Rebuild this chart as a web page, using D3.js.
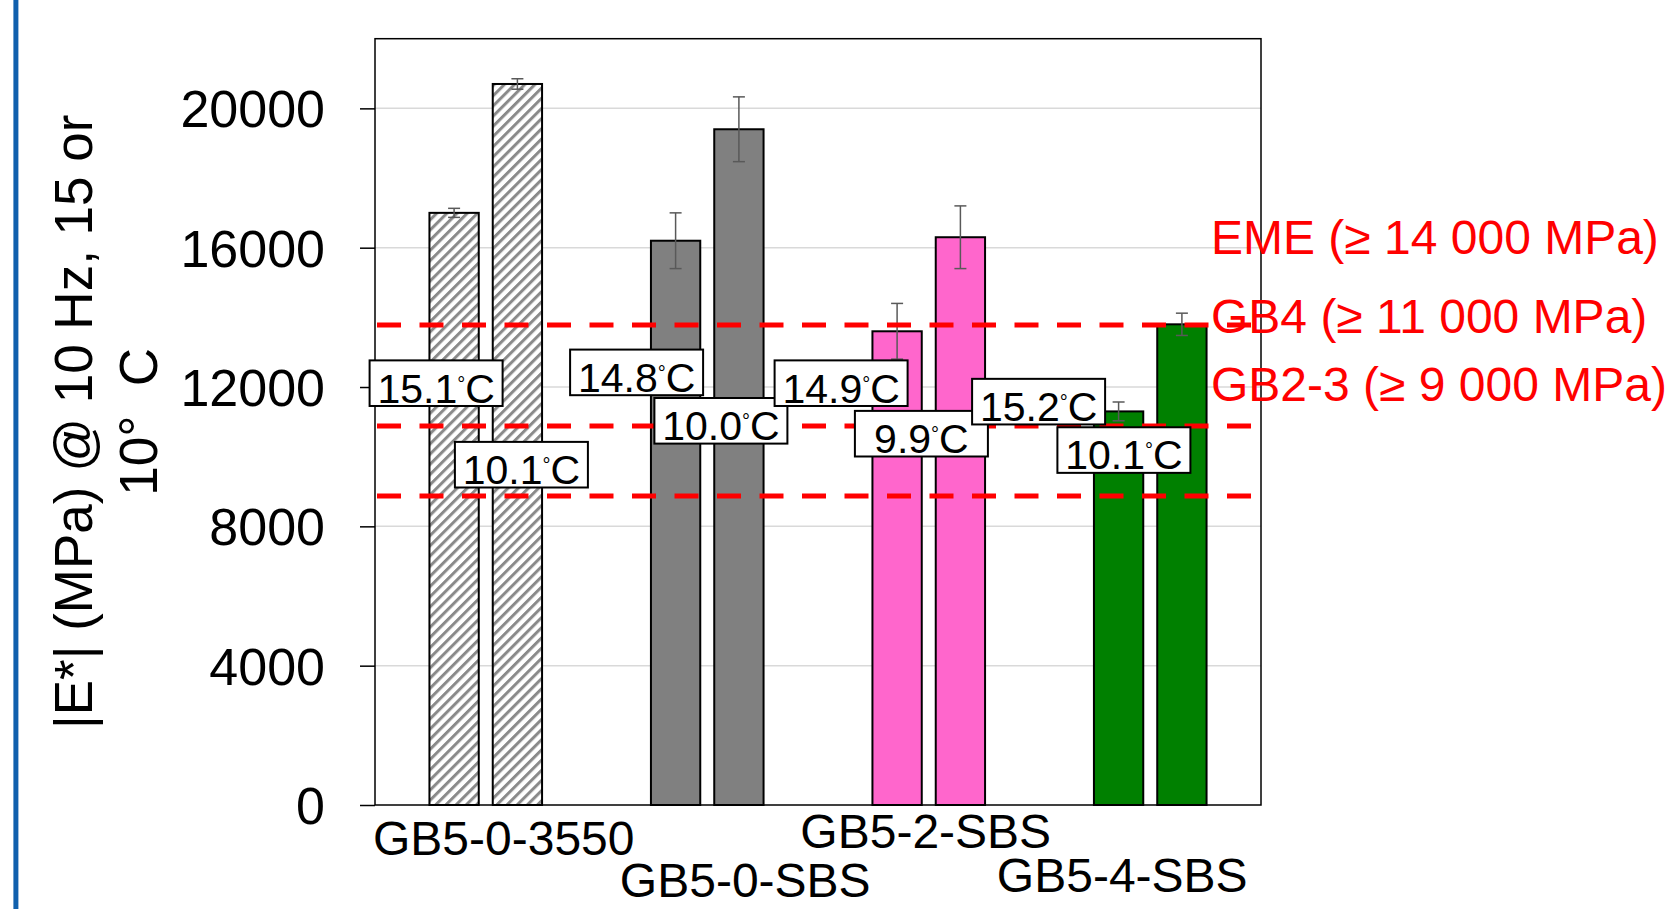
<!DOCTYPE html>
<html>
<head>
<meta charset="utf-8">
<script src="https://cdn.jsdelivr.net/npm/d3@7"></script>
<style>
  html, body { margin: 0; padding: 0; background: #fff; }
  svg { display: block; font-family: "Liberation Sans", Arial, sans-serif; }
</style>
</head>
<body>
<svg id="chart" width="1667" height="909"></svg>
<script>
// values
const categories = ["GB5-0-3550", "GB5-0-SBS", "GB5-2-SBS", "GB5-4-SBS"];
const seriesKeys = ["15C", "10C"];
const modulus15 = [17000, 16200, 13600, 11300];
const modulus10 = [20700, 19400, 16300, 13800];
const error15 = [130, 800, 800, 270];
const error10 = [150, 930, 900, 320];
const temp15 = ["15.1", "14.8", "14.9", "15.2"];
const temp10 = ["10.1", "10.0", "9.9", "10.1"];
const thresholdNames = ["EME (\u2265 14 000 MPa)", "GB4 (\u2265 11 000 MPa)", "GB2-3 (\u2265 9 000 MPa)"];
const thresholdValues = [13780, 10880, 8870];
const yTicks = [0, 4000, 8000, 12000, 16000, 20000];
const yMax = 22000;

// hand-placed annotations (offsets from the bar they belong to)
const labelDx15 = [-18, -39, -56, -80];
const labelDx10 = [4, -18, -39, -58];
const labelAt15 = [12110, 12420, 12110, 11580];
const labelAt10 = [9770, 11030, 10660, 10190];
const catLabelDx = [18, 38, -3, -28];
const catLabelDy = [50, 92, 43, 87];
const thresholdLabelDy = [-71, -93, -95];

const colors = ["url(#hatch)", "#808080", "#ff66cc", "#008000"];

const svg = d3.select("#chart");
const width = 1667, height = 909;
const margin = { top: 38.7, right: 406, bottom: 104, left: 375 };
const innerW = width - margin.left - margin.right;
const innerH = height - margin.top - margin.bottom;

svg.append("rect").attr("width", width).attr("height", height).attr("fill", "#fff");

// blue slide edge
svg.append("rect")
  .attr("x", 13.4).attr("y", 0).attr("width", 5).attr("height", height)
  .attr("fill", "#1060ad");

const defs = svg.append("defs");
const pat = defs.append("pattern")
  .attr("id", "hatch")
  .attr("patternUnits", "userSpaceOnUse")
  .attr("width", 7.2).attr("height", 7.2)
  .attr("patternTransform", "rotate(45)");
pat.append("rect").attr("width", 7.2).attr("height", 7.2).attr("fill", "#fff");
pat.append("rect").attr("width", 3).attr("height", 7.2).attr("fill", "#8a8a8a");

const g = svg.append("g").attr("transform", `translate(${margin.left},${margin.top})`);

const y = d3.scaleLinear().domain([0, yMax]).range([innerH, 0]);
const x0 = d3.scaleBand().domain(categories).range([0, innerW]).padding(0);
const x1 = d3.scaleBand().domain(seriesKeys).range([0, x0.bandwidth()])
  .paddingInner(0.221).paddingOuter(0.86);

// grid
g.append("g").selectAll("line")
  .data(yTicks.filter(d => d > 0))
  .join("line")
  .attr("x1", 0).attr("x2", innerW)
  .attr("y1", d => y(d)).attr("y2", d => y(d))
  .attr("stroke", "#d9d9d9").attr("stroke-width", 1.5);

const rows = categories.map((c, i) => ({
  cat: c, i,
  vals: [
    { key: "15C", v: modulus15[i], e: error15[i], t: temp15[i], dx: labelDx15[i], at: labelAt15[i] },
    { key: "10C", v: modulus10[i], e: error10[i], t: temp10[i], dx: labelDx10[i], at: labelAt10[i] }
  ]
}));
const flat = rows.flatMap(r => r.vals.map(v => ({ ...v, cat: r.cat, i: r.i })));
const cx = d => x0(d.cat) + x1(d.key) + x1.bandwidth() / 2;

// bars
g.append("g").selectAll("rect")
  .data(flat)
  .join("rect")
  .attr("x", d => x0(d.cat) + x1(d.key))
  .attr("width", x1.bandwidth())
  .attr("y", d => y(d.v))
  .attr("height", d => y(0) - y(d.v))
  .attr("fill", d => colors[d.i])
  .attr("stroke", "#000")
  .attr("stroke-width", 2);

// error bars
const eb = g.append("g")
  .attr("stroke", "#595959")
  .attr("stroke-width", 1.5)
  .selectAll("g")
  .data(flat)
  .join("g");
eb.append("line")
  .attr("x1", cx).attr("x2", cx)
  .attr("y1", d => y(d.v + d.e)).attr("y2", d => y(d.v - d.e));
[1, -1].forEach(s => {
  eb.append("line")
    .attr("x1", d => cx(d) - 6).attr("x2", d => cx(d) + 6)
    .attr("y1", d => y(d.v + s * d.e)).attr("y2", d => y(d.v + s * d.e));
});

// frame
g.append("rect")
  .attr("width", innerW).attr("height", innerH)
  .attr("fill", "none").attr("stroke", "#000").attr("stroke-width", 1.5);

// y axis
const yAxis = g.append("g")
  .call(d3.axisLeft(y).tickValues(yTicks).tickSize(15).tickPadding(35).tickFormat(d3.format("d")));
yAxis.select(".domain").remove();
yAxis.selectAll(".tick line").attr("stroke", "#000").attr("stroke-width", 1.5);
yAxis.selectAll(".tick text")
  .attr("font-size", "52px")
  .attr("font-family", "Liberation Sans, Arial, sans-serif")
  .attr("fill", "#000")
  .attr("dy", "0.355em");

// category labels (staggered like the original)
g.append("g").selectAll("text")
  .data(categories)
  .join("text")
  .attr("x", (d, i) => x0(d) + x0.bandwidth() / 2 + catLabelDx[i])
  .attr("y", (d, i) => y(0) + catLabelDy[i])
  .attr("text-anchor", "middle")
  .attr("font-size", "48px")
  .attr("fill", "#000")
  .text(d => d);

// threshold lines
g.append("g").selectAll("line")
  .data(thresholdValues)
  .join("line")
  .attr("x1", 2).attr("x2", innerW - 9)
  .attr("y1", d => y(d)).attr("y2", d => y(d))
  .attr("stroke", "#ff0000")
  .attr("stroke-width", 5)
  .attr("stroke-dasharray", "24 18.5");

// temperature labels
const lab = g.append("g").selectAll("g")
  .data(flat)
  .join("g")
  .attr("transform", d => `translate(${cx(d) + d.dx},${y(d.at)})`);
lab.append("rect")
  .attr("x", -66.5).attr("y", -22.8)
  .attr("width", 133).attr("height", 45.6)
  .attr("fill", "#fff").attr("stroke", "#000").attr("stroke-width", 2);
const lt = lab.append("text")
  .attr("x", 0).attr("y", 19.4)
  .attr("text-anchor", "middle")
  .attr("font-size", "41px")
  .attr("fill", "#000");
lt.append("tspan").text(d => d.t);
lt.append("tspan").attr("font-size", "20px").attr("dy", -12).text("\u00b0");
lt.append("tspan").attr("dy", 12).text("C");

// threshold labels
g.append("g").selectAll("text")
  .data(thresholdNames)
  .join("text")
  .attr("x", innerW - 50)
  .attr("y", (d, i) => y(thresholdValues[i]) + thresholdLabelDy[i])
  .attr("font-size", "48px")
  .attr("fill", "#ff0000")
  .text(d => d);

// y axis title
const title = svg.append("text")
  .attr("transform", `translate(0,${margin.top + innerH / 2}) rotate(-90)`)
  .attr("text-anchor", "middle")
  .attr("font-size", "53px")
  .attr("fill", "#000")
  .style("white-space", "pre");
title.append("tspan").attr("x", 0).attr("y", 92).text("|E*| (MPa) @ 10 Hz, 15 or");
title.append("tspan").attr("x", 0).attr("y", 157).text("10\u00b0  C");
</script>
</body>
</html>
